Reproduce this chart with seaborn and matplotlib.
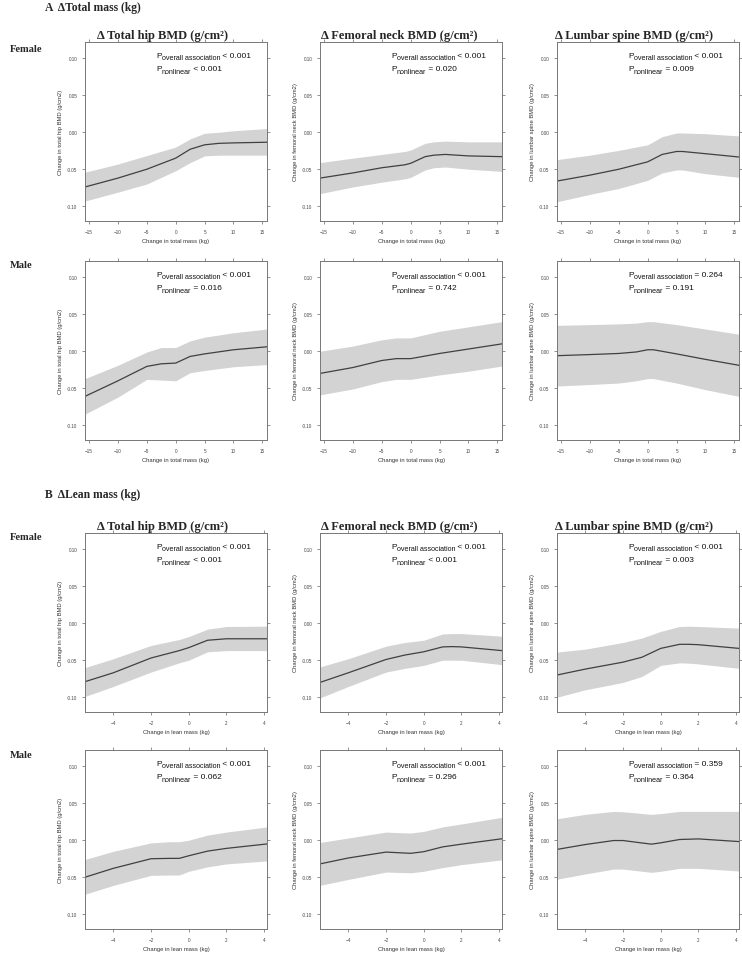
import numpy as np
import pandas as pd
import matplotlib
matplotlib.use("Agg")
import matplotlib.pyplot as plt
import seaborn as sns

sns.set_style("ticks")
plt.rcParams['font.family'] = ['Liberation Sans', 'DejaVu Sans']

# ---- A: change in total mass (kg) ----
tm_f_hip_x = [-15.7, -10, -5, 0, 2.5, 5, 7.5, 10, 15.8]
tm_f_hip_fit = [-0.074, -0.062, -0.050, -0.035, -0.023, -0.017, -0.015, -0.0144, -0.0135]
tm_f_hip_lo = [-0.093, -0.081, -0.070, -0.052, -0.041, -0.032, -0.031, -0.031, -0.031]
tm_f_hip_hi = [-0.054, -0.043, -0.0315, -0.020, -0.009, -0.0014, 0.0, 0.002, 0.005]

tm_f_neck_x = [-15.7, -10, -5, -1, 0, 2.5, 4, 6, 10, 15.8]
tm_f_neck_fit = [-0.062, -0.055, -0.048, -0.044, -0.042, -0.033, -0.031, -0.030, -0.032, -0.033]
tm_f_neck_lo = [-0.083, -0.074, -0.0675, -0.063, -0.061, -0.051, -0.048, -0.047, -0.050, -0.053]
tm_f_neck_hi = [-0.041, -0.035, -0.030, -0.026, -0.024, -0.015, -0.013, -0.012, -0.013, -0.013]

tm_f_spine_x = [-15.7, -10, -5, 0, 2.5, 5, 6, 10, 15.8]
tm_f_spine_fit = [-0.066, -0.058, -0.050, -0.040, -0.030, -0.026, -0.026, -0.029, -0.0335]
tm_f_spine_lo = [-0.094, -0.084, -0.076, -0.065, -0.055, -0.051, -0.051, -0.056, -0.061]
tm_f_spine_hi = [-0.037, -0.031, -0.0245, -0.017, -0.006, -0.001, -0.001, -0.002, -0.005]

tm_m_hip_x = [-15.7, -10, -5, -2.5, 0, 2.5, 5, 10, 15.8]
tm_m_hip_fit = [-0.061, -0.040, -0.0205, -0.017, -0.016, -0.007, -0.0036, 0.002, 0.006]
tm_m_hip_lo = [-0.085, -0.062, -0.038, -0.039, -0.040, -0.029, -0.026, -0.021, -0.018]
tm_m_hip_hi = [-0.037, -0.019, -0.001, 0.005, 0.005, 0.014, 0.019, 0.025, 0.030]

tm_m_neck_x = [-15.7, -10, -5, -2.5, 0, 5, 10, 15.8]
tm_m_neck_fit = [-0.030, -0.022, -0.0125, -0.010, -0.010, -0.003, 0.003, 0.010]
tm_m_neck_lo = [-0.059, -0.051, -0.041, -0.038, -0.038, -0.032, -0.027, -0.020]
tm_m_neck_hi = [0.0, 0.007, 0.0155, 0.018, 0.018, 0.027, 0.033, 0.040]

tm_m_spine_x = [-15.7, -10, -5, -2, 0, 1, 5, 10, 15.8]
tm_m_spine_fit = [-0.006, -0.0045, -0.003, -0.001, 0.002, 0.002, -0.0036, -0.011, -0.019]
tm_m_spine_lo = [-0.047, -0.045, -0.043, -0.040, -0.037, -0.037, -0.043, -0.052, -0.061]
tm_m_spine_hi = [0.035, 0.036, 0.037, 0.038, 0.040, 0.040, 0.036, 0.030, 0.023]

# ---- B: change in lean mass (kg) ----
lm_f_hip_x = [-5.5, -4, -2, -0.5, 0, 1, 2, 4.15]
lm_f_hip_fit = [-0.079, -0.067, -0.047, -0.037, -0.033, -0.023, -0.021, -0.021]
lm_f_hip_lo = [-0.099, -0.0855, -0.066, -0.0535, -0.050, -0.0386, -0.037, -0.037]
lm_f_hip_hi = [-0.060, -0.048, -0.030, -0.022, -0.018, -0.008, -0.0044, -0.004]

lm_f_neck_x = [-5.5, -4, -2, -1, 0, 1, 1.5, 2, 4.15]
lm_f_neck_fit = [-0.080, -0.067, -0.049, -0.043, -0.0386, -0.032, -0.0316, -0.032, -0.037]
lm_f_neck_lo = [-0.101, -0.0855, -0.066, -0.061, -0.057, -0.050, -0.050, -0.050, -0.056]
lm_f_neck_hi = [-0.059, -0.048, -0.031, -0.026, -0.023, -0.0145, -0.014, -0.014, -0.0175]

lm_f_spine_x = [-5.5, -4, -2, -1, 0, 1, 1.5, 2, 4.15]
lm_f_spine_fit = [-0.070, -0.062, -0.0526, -0.046, -0.034, -0.0285, -0.0285, -0.029, -0.034]
lm_f_spine_lo = [-0.100, -0.090, -0.080, -0.072, -0.057, -0.0535, -0.054, -0.055, -0.061]
lm_f_spine_hi = [-0.039, -0.035, -0.026, -0.020, -0.011, -0.0044, -0.004, -0.0044, -0.0066]

lm_m_hip_x = [-5.5, -4, -2, -1, -0.5, 0, 1, 2, 4.15]
lm_m_hip_fit = [-0.050, -0.038, -0.025, -0.0245, -0.0245, -0.021, -0.0147, -0.011, -0.005]
lm_m_hip_lo = [-0.073, -0.061, -0.0475, -0.047, -0.047, -0.042, -0.036, -0.032, -0.028]
lm_m_hip_hi = [-0.026, -0.015, -0.0036, -0.002, -0.002, 0.0, 0.007, 0.011, 0.018]

lm_m_neck_x = [-5.5, -4, -2, -0.7, 0, 1, 2, 4.15]
lm_m_neck_fit = [-0.032, -0.024, -0.016, -0.0177, -0.0155, -0.009, -0.0053, 0.002]
lm_m_neck_lo = [-0.061, -0.053, -0.043, -0.044, -0.042, -0.037, -0.033, -0.0265]
lm_m_neck_hi = [-0.003, 0.003, 0.011, 0.0097, 0.012, 0.018, 0.022, 0.031]

lm_m_spine_x = [-5.5, -4, -2.5, -2, -0.5, 0, 1, 2, 4.15]
lm_m_spine_fit = [-0.0124, -0.0058, -0.0004, -0.0004, -0.0053, -0.0035, 0.001, 0.0018, -0.0018]
lm_m_spine_lo = [-0.0527, -0.0456, -0.039, -0.039, -0.0434, -0.042, -0.038, -0.038, -0.0416]
lm_m_spine_hi = [0.029, 0.035, 0.039, 0.0385, 0.035, 0.036, 0.039, 0.039, 0.039]

p_overall = ['< 0.001', '< 0.001', '< 0.001', '< 0.001', '< 0.001', '= 0.264',
             '< 0.001', '< 0.001', '< 0.001', '< 0.001', '< 0.001', '= 0.359']
p_nonlinear = ['< 0.001', '= 0.020', '= 0.009', '= 0.016', '= 0.742', '= 0.191',
               '< 0.001', '< 0.001', '= 0.003', '= 0.062', '= 0.296', '= 0.364']

titles = ['\u0394 Total hip BMD (g/cm\u00b2)', '\u0394 Femoral neck BMD (g/cm\u00b2)',
          '\u0394 Lumbar spine BMD (g/cm\u00b2)']
ylabels = ['Change in total hip BMD (g/cm2)', 'Change in femoral neck BMD (g/cm2)',
           'Change in lumbar spine BMD (g/cm2)']

panels = [
    (tm_f_hip_x, tm_f_hip_fit, tm_f_hip_lo, tm_f_hip_hi),
    (tm_f_neck_x, tm_f_neck_fit, tm_f_neck_lo, tm_f_neck_hi),
    (tm_f_spine_x, tm_f_spine_fit, tm_f_spine_lo, tm_f_spine_hi),
    (tm_m_hip_x, tm_m_hip_fit, tm_m_hip_lo, tm_m_hip_hi),
    (tm_m_neck_x, tm_m_neck_fit, tm_m_neck_lo, tm_m_neck_hi),
    (tm_m_spine_x, tm_m_spine_fit, tm_m_spine_lo, tm_m_spine_hi),
    (lm_f_hip_x, lm_f_hip_fit, lm_f_hip_lo, lm_f_hip_hi),
    (lm_f_neck_x, lm_f_neck_fit, lm_f_neck_lo, lm_f_neck_hi),
    (lm_f_spine_x, lm_f_spine_fit, lm_f_spine_lo, lm_f_spine_hi),
    (lm_m_hip_x, lm_m_hip_fit, lm_m_hip_lo, lm_m_hip_hi),
    (lm_m_neck_x, lm_m_neck_fit, lm_m_neck_lo, lm_m_neck_hi),
    (lm_m_spine_x, lm_m_spine_fit, lm_m_spine_lo, lm_m_spine_hi),
]

W, H = 742, 954
fig = plt.figure(figsize=(W / 100, H / 100), dpi=100)
fig.patch.set_facecolor('white')

col_left = [85, 320, 557]
row_top = [43, 262, 534, 751]
aw, ah = 182, 179
title_x = [97, 321, 555]
serif = ['Liberation Serif', 'DejaVu Serif']


def p_label(ax, y, sub, rest):
    # P, a slightly smaller subscript, then the value, chained left to right
    t1 = ax.text(0.39, y, 'P', transform=ax.transAxes, fontsize=6.0, va='bottom',
                 ha='left', color='#111111')
    t2 = ax.annotate(sub, xy=(1, 0), xycoords=t1, xytext=(0.2, -1.6),
                     textcoords='offset points', fontsize=5.1, va='bottom',
                     ha='left', color='#111111')
    ax.annotate(' ' + rest, xy=(1, 0), xycoords=t2, xytext=(0, 1.6),
                textcoords='offset points', fontsize=6.0, va='bottom',
                ha='left', color='#111111')


for i, (x, fit, lo, hi) in enumerate(panels):
    r, c = divmod(i, 3)
    lean = r >= 2
    ax = fig.add_axes([col_left[c] / W, 1 - (row_top[r] + ah) / H, aw / W, ah / H])
    df = pd.DataFrame({'x': x, 'fit': fit})
    ax.fill_between(x, lo, hi, color='#d3d3d3', linewidth=0)
    sns.lineplot(data=df, x='x', y='fit', ax=ax, color='#404040', linewidth=0.9)
    if lean:
        ax.set_xlim(-5.5, 4.15)
        ax.set_xticks([-4, -2, 0, 2, 4])
        ax.set_xlabel('Change in lean mass (kg)', fontsize=4.2, color='#333333', labelpad=3)
    else:
        ax.set_xlim(-15.7, 15.8)
        ax.set_xticks([-15, -10, -5, 0, 5, 10, 15])
        ax.set_xlabel('Change in total mass (kg)', fontsize=4.2, color='#333333', labelpad=3)
    ax.set_ylim(-0.12, 0.122)
    ax.set_yticks([-0.10, -0.05, 0.0, 0.05, 0.10])
    ax.set_yticklabels(['-0.10', '-0.05', '0.00', '0.05', '0.10'])
    ax.set_ylabel(ylabels[c], fontsize=4.2, color='#333333', labelpad=3)
    ax.tick_params(axis='both', which='both', direction='out', length=2.5, width=0.5,
                   color='#666666', labelsize=3.3, labelcolor='#444444', pad=3,
                   top=True, right=True, labeltop=False, labelright=False)
    for s in ax.spines.values():
        s.set_visible(True)
        s.set_color('#777777')
        s.set_linewidth(0.7)
    p_label(ax, 0.905, 'overall association', p_overall[i])
    p_label(ax, 0.83, 'nonlinear', p_nonlinear[i])
    if r in (0, 2):
        fig.text(title_x[c] / W, 1 - (row_top[r] - 7) / H, titles[c], family=serif,
                 fontweight='bold', fontsize=9, ha='left', va='center')

# row and section labels
for top, lab in zip([49, 266, 537, 756], ['Female', 'Male', 'Female', 'Male']):
    fig.text(10 / W, 1 - top / H, lab, family=serif, fontweight='bold', fontsize=7.6,
             ha='left', va='center')
fig.text(45 / W, 1 - 8 / H, 'A  \u0394Total mass (kg)', family=serif, fontweight='bold',
         fontsize=8.4, ha='left', va='center')
fig.text(45 / W, 1 - 495 / H, 'B  \u0394Lean mass (kg)', family=serif, fontweight='bold',
         fontsize=8.4, ha='left', va='center')

fig.savefig('out.png', dpi=100, facecolor='white')
